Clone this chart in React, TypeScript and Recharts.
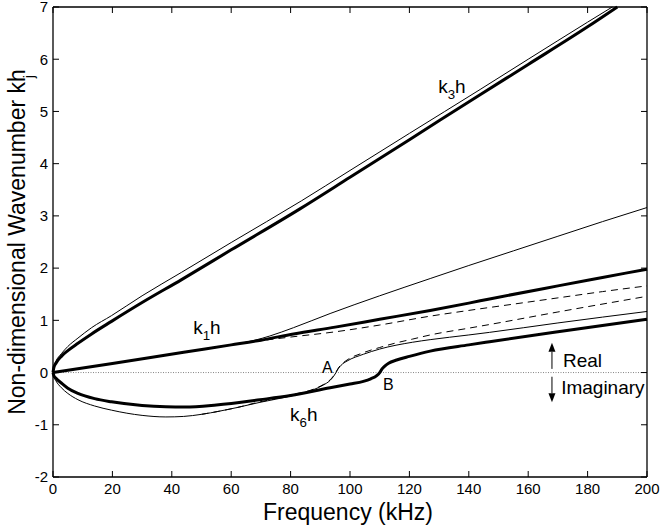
import React from 'react';
import { LineChart, Line, XAxis, YAxis, ReferenceLine, ReferenceDot, Label, CartesianGrid } from 'recharts';

const FONT = '"Liberation Sans", Arial, Helvetica, sans-serif';

const CHART_W = 660;
const CHART_H = 529;
const MARGIN = { top: 7, right: 13, bottom: 0, left: 0 };
const Y_AXIS_W = 53;
const X_AXIS_H = 52;

const xTicks = [0, 20, 40, 60, 80, 100, 120, 140, 160, 180, 200];
const yTicks = [-2, -1, 0, 1, 2, 3, 4, 5, 6, 7];
const X_MIN = 0;
const X_MAX = 200;
const Y_MIN = -2;
const Y_MAX = 7;

// k3h, thick (leaves the box at the top near 190 kHz)
const k3ThickF = [0, 0.3, 1, 2.8, 5, 8.4, 13, 19.7, 30, 43.3, 60, 83, 100, 120, 143.8, 160, 180, 190];
const k3ThickV = [0, 0.1, 0.18, 0.31, 0.42, 0.56, 0.74, 0.98, 1.34, 1.78, 2.35, 3.13, 3.74, 4.46, 5.32, 5.9, 6.62, 7.0];
// k3h companion, thin
const k3ThinF = [0, 0.3, 1, 2.8, 5, 8.4, 13, 19.7, 30, 43.3, 60, 83.7, 100, 120, 143.8, 160, 180, 188.3];
const k3ThinV = [0, 0.12, 0.22, 0.36, 0.5, 0.66, 0.86, 1.09, 1.47, 1.92, 2.49, 3.29, 3.87, 4.58, 5.42, 6.0, 6.71, 7.0];
// upper thin branch (leaves k1h near 62 kHz)
const upperThinF = [0, 10, 20, 30, 44, 55, 60, 64, 68, 73, 81, 93.3, 110, 127, 140, 155, 170, 185, 200];
const upperThinV = [0, 0.085, 0.17, 0.26, 0.39, 0.48, 0.53, 0.57, 0.62, 0.7, 0.86, 1.13, 1.47, 1.8, 2.05, 2.33, 2.61, 2.89, 3.16];
// k1h, thick
const k1F = [0, 20, 44, 60, 70, 81, 95, 110, 127, 140, 147, 170, 185, 200];
const k1V = [0, 0.175, 0.39, 0.53, 0.62, 0.74, 0.87, 1.02, 1.19, 1.33, 1.41, 1.66, 1.82, 1.98];
// upper dashed
const dashUpF = [0, 20, 44, 60, 70, 80, 95, 110, 127, 140, 155, 170, 185, 200];
const dashUpV = [0, 0.175, 0.39, 0.53, 0.61, 0.68, 0.78, 0.91, 1.08, 1.19, 1.31, 1.43, 1.55, 1.66];
// thin lower branch (through A)
const thinLowF = [0, 0.3, 1, 2.8, 5, 8.4, 14, 19.7, 30, 38, 44, 50, 56, 62, 69.7, 75, 80, 87.6, 91, 93.3, 94.5, 95.3, 96, 97, 99, 104.5, 110, 121, 127, 140, 147, 170, 200];
const thinLowV = [0, -0.08, -0.16, -0.29, -0.4, -0.52, -0.64, -0.72, -0.82, -0.85, -0.84, -0.8, -0.74, -0.67, -0.57, -0.51, -0.45, -0.33, -0.24, -0.15, -0.07, 0, 0.07, 0.14, 0.22, 0.35, 0.45, 0.58, 0.63, 0.72, 0.77, 0.95, 1.17];
// k6h, thick (through B)
const k6F = [0, 0.3, 1, 2.8, 5, 8.4, 14, 19.7, 30, 38, 44.4, 55, 69.7, 80, 93.3, 100, 104.5, 107, 109, 110, 110.8, 111.8, 113, 115.7, 120, 127, 140, 147, 170, 200];
const k6V = [0, -0.06, -0.11, -0.2, -0.3, -0.4, -0.5, -0.56, -0.63, -0.655, -0.66, -0.62, -0.52, -0.44, -0.29, -0.22, -0.17, -0.12, -0.06, 0, 0.07, 0.13, 0.18, 0.24, 0.31, 0.41, 0.53, 0.59, 0.78, 1.02];
// lower dashed
const dashLowF = [50, 56, 62, 69.7, 75, 80, 87.6, 91, 93.3, 94.5, 95.3, 96, 97, 99, 104.5, 110, 115, 121, 127, 140, 147, 170, 200];
const dashLowV = [-0.8, -0.74, -0.67, -0.56, -0.5, -0.43, -0.32, -0.23, -0.14, -0.06, 0.01, 0.08, 0.15, 0.24, 0.38, 0.48, 0.56, 0.64, 0.72, 0.85, 0.92, 1.16, 1.46];

const zip = (xs: number[], ys: number[]) => xs.map((x, i) => ({ x, y: ys[i] }));

const series = [
  { key: 'k3thin', data: zip(k3ThinF, k3ThinV), w: 1, dash: undefined as string | undefined },
  { key: 'upperThin', data: zip(upperThinF, upperThinV), w: 1, dash: undefined },
  { key: 'thinLow', data: zip(thinLowF, thinLowV), w: 1, dash: undefined },
  { key: 'dashUp', data: zip(dashUpF, dashUpV), w: 1, dash: '7 5' },
  { key: 'dashLow', data: zip(dashLowF, dashLowV), w: 1, dash: '7 5' },
  { key: 'k3thick', data: zip(k3ThickF, k3ThickV), w: 3, dash: undefined },
  { key: 'k1', data: zip(k1F, k1V), w: 3, dash: undefined },
  { key: 'k6', data: zip(k6F, k6V), w: 3, dash: undefined },
];

const annotations = [
  { x: 129.7, y: 5.36, main: 'k', sub: '3', tail: 'h', size: 19 },
  { x: 47.2, y: 0.73, main: 'k', sub: '1', tail: 'h', size: 19 },
  { x: 79.8, y: -0.92, main: 'k', sub: '6', tail: 'h', size: 19 },
  { x: 90.6, y: -0.01, main: 'A', sub: '', tail: '', size: 16 },
  { x: 111.1, y: -0.33, main: 'B', sub: '', tail: '', size: 16 },
  { x: 171.7, y: 0.115, main: 'Real', sub: '', tail: '', size: 19 },
  { x: 171.1, y: -0.42, main: 'Imaginary', sub: '', tail: '', size: 19 },
];

const arrows = [
  { x: 168, from: 0.07, to: 0.57 },
  { x: 168, from: -0.08, to: -0.57 },
];

const TICK_LEN = 6;

const makeLabel = (a: typeof annotations[number]) => (props: any) => {
  const vb = props.viewBox || {};
  const x = (vb.x ?? 0) + (vb.width ?? 0) / 2;
  const y = (vb.y ?? 0) + (vb.height ?? 0) / 2;
  return (
    <text x={x} y={y} fontFamily={FONT} fontSize={a.size} fill="#000">
      {a.main}
      {a.sub ? <tspan fontSize={a.size * 0.7} dy={6}>{a.sub}</tspan> : null}
      {a.tail ? <tspan dy={-6}>{a.tail}</tspan> : null}
    </text>
  );
};

const ArrowShape = (props: any) => {
  const { x1, y1, x2, y2 } = props;
  const dir = y2 < y1 ? -1 : 1;
  const head = 9;
  const half = 3.5;
  return (
    <g>
      <line x1={x1} y1={y1} x2={x2} y2={y2 - dir * head} stroke="#000" strokeWidth={1} />
      <polygon points={`${x2},${y2} ${x2 - half},${y2 - dir * head} ${x2 + half},${y2 - dir * head}`} fill="#000" />
    </g>
  );
};

const XTitle = (props: any) => {
  const vb = props.viewBox || {};
  const cx = vb.x + vb.width / 2 - 2;
  return (
    <text x={cx} y={520} textAnchor="middle" fontFamily={FONT} fontSize={23} fill="#000">
      Frequency (kHz)
    </text>
  );
};

// y-axis title plus inward tick marks on all four sides of the box
const YTitleAndTicks = (props: any) => {
  const vb = props.viewBox || {};
  const top = vb.y;
  const height = vb.height;
  const bottom = top + height;
  const left = vb.x + vb.width;
  const right = CHART_W - MARGIN.right;
  const width = right - left;
  const cy = top + height / 2;
  const tx = 25;
  const px = (t: number) => left + ((t - X_MIN) / (X_MAX - X_MIN)) * width;
  const py = (t: number) => bottom - ((t - Y_MIN) / (Y_MAX - Y_MIN)) * height;
  const d =
    xTicks.map((t) => `M${px(t)},${bottom}v${-TICK_LEN}M${px(t)},${top}v${TICK_LEN}`).join('') +
    yTicks.map((t) => `M${left},${py(t)}h${TICK_LEN}M${right},${py(t)}h${-TICK_LEN}`).join('');
  return (
    <g>
      <path d={d} stroke="#000" strokeWidth={1} fill="none" />
      <text x={tx} y={cy} transform={`rotate(-90 ${tx} ${cy})`} textAnchor="middle" fontFamily={FONT} fontSize={23} fill="#000">
        Non-dimensional Wavenumber kh
        <tspan fontSize={15} dx={-9} dy={9}>j</tspan>
      </text>
    </g>
  );
};

const axisLine = { stroke: '#000', strokeWidth: 1.3 };
const tickStyle = { fill: '#000', fontSize: 15, fontFamily: FONT };

export default function App() {
  return (
    <div style={{ width: CHART_W, height: CHART_H, background: '#fff' }}>
      <style>{'body{margin:0;background:#fff}'}</style>
      <LineChart width={CHART_W} height={CHART_H} margin={MARGIN}>
        <CartesianGrid
          horizontalValues={[Y_MAX]}
          verticalValues={[X_MAX]}
          stroke="#000"
          strokeWidth={1.3}
          strokeDasharray=""
        />
        <XAxis
          dataKey="x"
          type="number"
          domain={[X_MIN, X_MAX]}
          ticks={xTicks}
          interval={0}
          height={X_AXIS_H}
          tickSize={0}
          tickMargin={6}
          axisLine={axisLine}
          tickLine={false}
          tick={tickStyle}
        >
          <Label content={XTitle} />
        </XAxis>
        <YAxis
          type="number"
          domain={[Y_MIN, Y_MAX]}
          ticks={yTicks}
          interval={0}
          width={Y_AXIS_W}
          tickSize={0}
          tickMargin={5}
          axisLine={axisLine}
          tickLine={false}
          tick={tickStyle}
        >
          <Label content={YTitleAndTicks} />
        </YAxis>
        <ReferenceLine
          segment={[{ x: X_MIN, y: 0 }, { x: X_MAX, y: 0 }]}
          ifOverflow="visible"
          stroke="#666"
          strokeWidth={0.8}
          strokeDasharray="1 1.5"
        />
        {series.map((s) => (
          <Line
            key={s.key}
            data={s.data}
            dataKey="y"
            type="monotone"
            stroke="#000"
            strokeWidth={s.w}
            strokeDasharray={s.dash}
            dot={false}
            activeDot={false}
            isAnimationActive={false}
          />
        ))}
        {arrows.map((a, i) => (
          <ReferenceLine
            key={'ar' + i}
            segment={[{ x: a.x, y: a.from }, { x: a.x, y: a.to }]}
            shape={ArrowShape}
          />
        ))}
        {annotations.map((a, i) => (
          <ReferenceDot key={'an' + i} x={a.x} y={a.y} r={0} fill="none" stroke="none" label={makeLabel(a)} />
        ))}
      </LineChart>
    </div>
  );
}
